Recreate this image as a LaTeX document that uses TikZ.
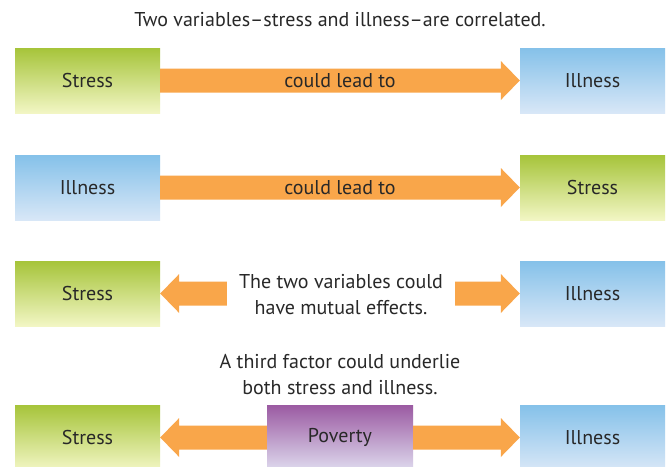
\documentclass[tikz,border=0pt]{standalone}
\usepackage{fontspec}
\setmainfont{PT Sans}
\usetikzlibrary{calc}
\definecolor{gtop}{RGB}{166,196,58}
\definecolor{gbot}{RGB}{242,246,196}
\definecolor{btop}{RGB}{133,193,233}
\definecolor{bbot}{RGB}{216,231,247}
\definecolor{ptop}{RGB}{155,90,162}
\definecolor{pbot}{RGB}{222,218,238}
\definecolor{arr}{RGB}{249,166,74}
\definecolor{txt}{RGB}{40,40,40}
\tikzset{
  box/.style={minimum width=145pt, minimum height=65pt, inner sep=0pt, text=txt, font=\fontsize{20}{22}\selectfont},
  gbox/.style={box, top color=gtop, bottom color=gbot},
  bbox/.style={box, top color=btop, bottom color=bbot},
  pbox/.style={box, top color=ptop, bottom color=pbot},
  lbl/.style={text=txt, font=\fontsize{20}{26}\selectfont, align=center, inner sep=0pt},
  arrowc/.style={fill=arr}
}
\newcommand\fatR[2]{\fill[arrowc] let \p1=(#1), \p2=(#2) in
  (\x1,\y1+12pt) -- (\x2-19pt,\y1+12pt) -- (\x2-19pt,\y1+19.5pt) -- (\x2,\y1) --
  (\x2-19pt,\y1-19.5pt) -- (\x2-19pt,\y1-12pt) -- (\x1,\y1-12pt) -- cycle;}
\newcommand\fatL[2]{\fill[arrowc] let \p1=(#1), \p2=(#2) in
  (\x1,\y1+12pt) -- (\x2+19pt,\y1+12pt) -- (\x2+19pt,\y1+19.5pt) -- (\x2,\y1) --
  (\x2+19pt,\y1-19.5pt) -- (\x2+19pt,\y1-12pt) -- (\x1,\y1-12pt) -- cycle;}
\begin{document}
\begin{tikzpicture}[x=1pt,y=-1pt]
\useasboundingbox[fill=white] (0,0) rectangle (669,466);
\node[lbl] (title) at (340,20) {Two variables–stress and illness–are correlated.};
% row 1
\node[gbox] (s1) at (87.5,80.5) {Stress};
\node[bbox] (i1) at (592.5,80.5) {Illness};
\fatR{s1.east}{i1.west}
\node[lbl] (c1) at (340,81) {could lead to};
% row 2
\node[bbox] (i2) at (87.5,187.5) {Illness};
\node[gbox] (s2) at (592.5,187.5) {Stress};
\fatR{i2.east}{s2.west}
\node[lbl] (c2) at (340,188) {could lead to};
% row 3
\node[gbox] (s3) at (87.5,293.5) {Stress};
\node[bbox] (i3) at (592.5,293.5) {Illness};
\node[lbl, minimum width=228pt] (t3) at (341,295) {The two variables could\\have mutual effects.};
\fatL{t3.west |- s3.east}{s3.east}
\fatR{t3.east |- i3.west}{i3.west}
% row 4
\node[lbl] (t4) at (340,375) {A third factor could underlie\\both stress and illness.};
\node[gbox] (s4) at (87.5,437.5) {Stress};
\node[bbox] (i4) at (592.5,437.5) {Illness};
\node[pbox, minimum width=146pt] (p4) at (340,437.5) {Poverty};
\fatL{p4.west}{s4.east}
\fatR{p4.east}{i4.west}
\end{tikzpicture}
\end{document}
